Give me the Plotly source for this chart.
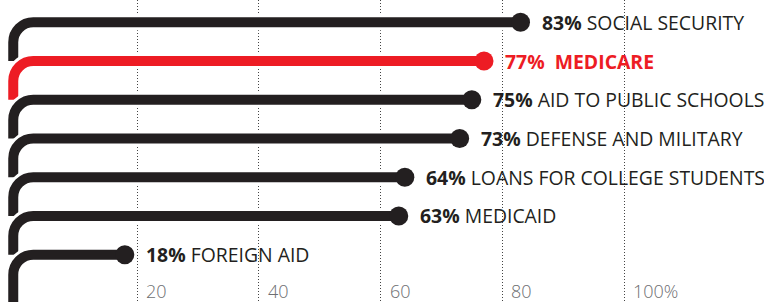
import plotly.graph_objects as go

# ---- data ----
categories = ["SOCIAL SECURITY", "MEDICARE", "AID TO PUBLIC SCHOOLS", "DEFENSE AND MILITARY",
              "LOANS FOR COLLEGE STUDENTS", "MEDICAID", "FOREIGN AID"]
values = [83, 77, 75, 73, 64, 63, 18]
highlight = [False, True, False, False, False, False, False]
tick_vals = [20, 40, 60, 80, 100]
tick_labels = ["20", "40", "60", "80", "100%"]

# ---- style ----
W, H = 764, 302
BLACK = "#231f20"
RED = "#ed1c24"
FONT = "Open Sans"
TICK_FONT = "Open Sans"
X_RANGE = [-15.25 / 6.0875, (W - 15.25) / 6.0875]
Y_RANGE = [(H - 22.3) / 38.73, -22.3 / 38.73]
PX_X = W / (X_RANGE[1] - X_RANGE[0])   # px per x unit
PX_Y = H / (Y_RANGE[0] - Y_RANGE[1])   # px per y unit
HOOK_X = -2.0 / PX_X                   # vertical stroke position
R = 20                                 # corner radius px
rx, ry = R / PX_X, R / PX_Y
K = 0.5523

fig = go.Figure()
shapes = []
annotations = []
n = len(values)
for i, (cat, v, hl) in enumerate(zip(categories, values, highlight)):
    color = RED if hl else BLACK
    y = i
    y_end = i + 1 if i < n - 1 else Y_RANGE[0] + 0.2
    path = (f"M {v},{y} L {HOOK_X + rx},{y} "
            f"C {HOOK_X + rx * (1 - K)},{y} {HOOK_X},{y + ry * (1 - K)} {HOOK_X},{y + ry} "
            f"L {HOOK_X},{y_end}")
    shapes.append(dict(type="path", path=path, xref="x", yref="y", layer="between",
                       line=dict(color="white", width=16)))
    shapes.append(dict(type="path", path=path, xref="x", yref="y", layer="between",
                       line=dict(color=color, width=10)))
    fig.add_trace(go.Scatter(x=[v], y=[y], mode="markers", hoverinfo="skip",
                             marker=dict(size=19, color=color, line=dict(width=0)),
                             showlegend=False))
    if hl:
        txt = f"<b>{v}%&nbsp; {cat}</b>"
    else:
        txt = f"<b>{v}%</b> {cat}"
    annotations.append(dict(x=v, y=y, xref="x", yref="y", text=txt, showarrow=False,
                            xanchor="left", yanchor="middle", xshift=19,
                            font=dict(family=FONT, size=19.4, color=color)))

for tv, tl in zip(tick_vals, tick_labels):
    annotations.append(dict(x=tv, y=0, xref="x", yref="paper", text=tl,
                            showarrow=False, xanchor="left", yanchor="bottom", xshift=7,
                            yshift=-3,
                            font=dict(family=TICK_FONT, size=18, color="#6d6e71", weight=300)))

fig.update_layout(
    width=W, height=H,
    margin=dict(l=0, r=0, t=0, b=0),
    paper_bgcolor="white", plot_bgcolor="white",
    shapes=shapes, annotations=annotations,
    xaxis=dict(range=X_RANGE, tickvals=tick_vals, showticklabels=False, showgrid=True,
               gridcolor="#444444", gridwidth=1, griddash="1px,2px", zeroline=False,
               showline=False, fixedrange=True),
    yaxis=dict(range=Y_RANGE, showgrid=False, showticklabels=False, zeroline=False,
               showline=False, fixedrange=True),
    showlegend=False,
)

fig.write_html("out.html", config={"displayModeBar": False},
               post_script="document.body.style.margin='0';")
